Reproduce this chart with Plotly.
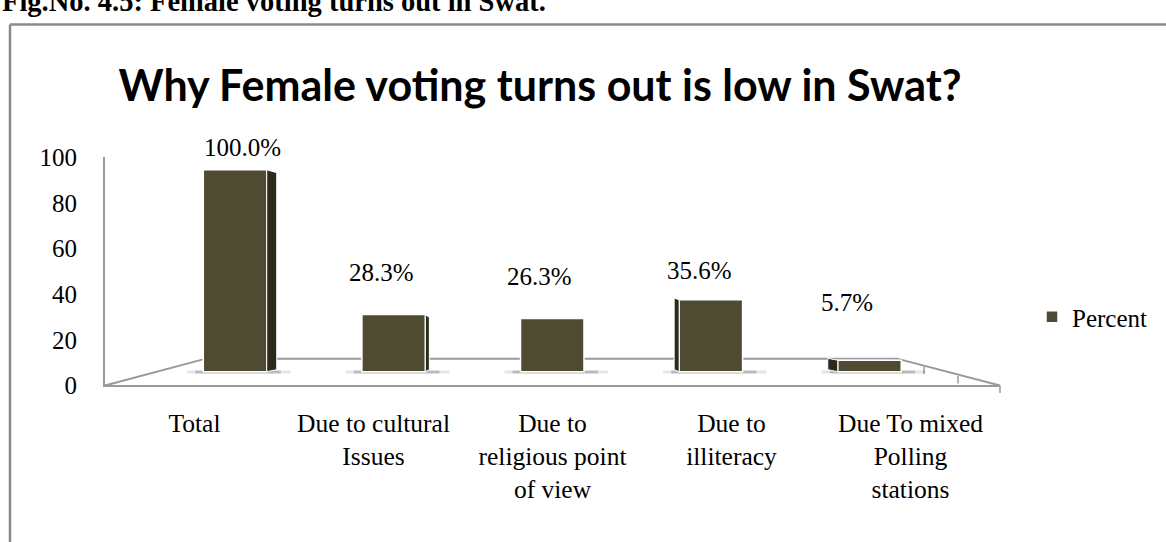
import plotly.graph_objects as go

# ---------------- data ----------------
categories = ["Total", "Due to cultural Issues", "Due to religious point of view",
              "Due to illiteracy", "Due To mixed Polling stations"]
tick_labels = ["Total", "Due to cultural<br>Issues", "Due to<br>religious point<br>of view",
               "Due to<br>illiteracy", "Due To mixed<br>Polling<br>stations"]
percent = [100.0, 28.3, 26.3, 35.6, 5.7]
value_labels = ["100.0%", "28.3%", "26.3%", "35.6%", "5.7%"]
y_ticks = [0, 20, 40, 60, 80, 100]
series_name = "Percent"

# ---------------- styling / layout helpers ----------------
W, H = 1166, 542
def fx(p):  # pixel x -> paper
    return p / W
def fy(p):  # pixel y -> paper
    return 1 - p / H

BAR = "#4f4a32"
SIDE = "#2b2a1c"
AXIS = "#9a9a9a"
SERIF = "Liberation Serif"

CAT_PX = 158.6          # px per category on bar axis
VAL_PX = 2.125          # px per value unit on bar axis
label_dx = [7, -12, -13, -11, -22]     # label offsets (px)
label_dy = [22, 42, 42, 29, 58]
side_px = [10, 4, 0, -5, -10]          # 3D side face width (px), sign = side

fig = go.Figure()

fig.add_trace(go.Bar(
    x=categories, y=percent, name=series_name,
    marker=dict(color=BAR, line=dict(color="white", width=1.5)),
    xaxis="x", yaxis="y", hoverinfo="x+y",
))
fig.add_trace(go.Scatter(
    x=categories, y=percent, mode="markers", marker=dict(opacity=0),
    xaxis="x2", yaxis="y2", showlegend=False, hoverinfo="skip",
))

shapes = []
# floor / walls (decoration)
floor = dict(type="line", xref="paper", yref="paper", layer="below",
             line=dict(color=AXIS, width=2))
shapes.append({**floor, "x0": fx(105), "y0": fy(392), "x1": fx(205), "y1": fy(364)})
shapes.append({**floor, "x0": fx(205), "y0": fy(364), "x1": fx(898), "y1": fy(364)})
shapes.append({**floor, "x0": fx(898), "y0": fy(364), "x1": fx(1000), "y1": fy(392)})
for (tx, ty) in [(896, 364), (924, 372), (958, 382), (1000, 392)]:
    shapes.append({**floor, "x0": fx(tx), "y0": fy(ty), "x1": fx(tx), "y1": fy(ty + 8),
                   "line": dict(color=AXIS, width=1.5)})

# shadows and side faces, anchored to data
for i, v in enumerate(percent):
    hl = 0.2
    for (l_px, r_px, a) in [(16, 24, 0.10), (8, 14, 0.18)]:
        shapes.append(dict(type="rect", xref="x", yref="y", layer="below",
                           x0=i - hl - l_px / CAT_PX, x1=i + hl + r_px / CAT_PX,
                           y0=-0.9, y1=0.6, line=dict(width=0),
                           fillcolor=f"rgba(0,0,0,{a})"))
    d = side_px[i]
    if d != 0:
        edge = i + hl if d > 0 else i - hl
        dd = d / CAT_PX
        top_drop = 3 / VAL_PX if d > 0 else -2 / VAL_PX
        path = (f"M {edge},{0} L {edge + dd},{1.0} L {edge + dd},{v - top_drop} "
                f"L {edge},{v} Z")
        shapes.append(dict(type="path", xref="x", yref="y", path=path,
                           fillcolor=SIDE, line=dict(color="white", width=1)))

# outer border of the chart box (top and left edges; the rest lies off-page)
border = dict(type="line", xref="paper", yref="paper", layer="below",
              line=dict(color="#8a8a8a", width=2.5))
shapes.append({**border, "x0": fx(10), "y0": fy(12), "x1": 1.05, "y1": fy(12)})
shapes.append({**border, "x0": fx(10), "y0": fy(12), "x1": fx(10), "y1": -0.05})

annotations = []
for i, (v, t) in enumerate(zip(percent, value_labels)):
    annotations.append(dict(x=i, y=v, xref="x", yref="y", text=t, showarrow=False,
                            xshift=label_dx[i], yshift=label_dy[i], yanchor="middle",
                            font=dict(family=SERIF, size=25, color="black")))
annotations.append(dict(x=0, y=fy(6), xref="paper", yref="paper", xanchor="left",
                        yanchor="bottom", showarrow=False,
                        text="<b>Fig.No. 4.5: Female voting turns out in Swat.</b>",
                        font=dict(family=SERIF, size=28.5, color="black")))

y_lo, y_hi = -5, 105
fig.update_layout(
    width=W, height=H, autosize=False,
    margin=dict(l=0, r=0, t=0, b=0),
    paper_bgcolor="white", plot_bgcolor="rgba(0,0,0,0)",
    bargap=0.6,
    title=dict(text="<b>Why Female voting turns out is low in Swat?</b>",
               x=fx(540), xanchor="center", xref="paper",
               y=fy(77), yanchor="middle", yref="paper",
               font=dict(family="Lato", size=43, color="black")),
    xaxis=dict(domain=[fx(155.7), fx(948.8)], range=[-0.5, 4.5], type="category",
               categoryorder="array", categoryarray=categories,
               visible=False, anchor="y", fixedrange=True),
    yaxis=dict(domain=[fy(377.5 + VAL_PX * -y_lo), fy(377.5 - VAL_PX * y_hi)],
               range=[y_lo, y_hi], visible=False, anchor="x", fixedrange=True),
    xaxis2=dict(domain=[fx(105), fx(1000)], range=[-0.5, 4.5], type="category",
                categoryorder="array", categoryarray=categories,
                tickvals=categories, ticktext=tick_labels, anchor="y2",
                showline=True, linecolor=AXIS, linewidth=2, showgrid=False,
                zeroline=False, ticks="", ticklabelstandoff=14,
                tickfont=dict(family=SERIF, size=25.5, color="black"), fixedrange=True),
    yaxis2=dict(domain=[fy(392), fy(152)], range=[0, 100], anchor="x2",
                tickvals=y_ticks, showline=True, linecolor=AXIS, linewidth=2,
                showgrid=False, zeroline=False, ticks="", ticklabelstandoff=21,
                tickfont=dict(family=SERIF, size=25, color="black"), fixedrange=True),
    legend=dict(x=fx(1032), y=fy(320), xanchor="left", yanchor="middle",
                bgcolor="rgba(0,0,0,0)", borderwidth=0,
                font=dict(family=SERIF, size=25, color="black")),
    showlegend=True,
    shapes=shapes,
    annotations=annotations,
)

fig.write_html("out.html", config={"displayModeBar": False},
               post_script="document.body.style.margin='0';document.body.style.overflow='hidden';")
